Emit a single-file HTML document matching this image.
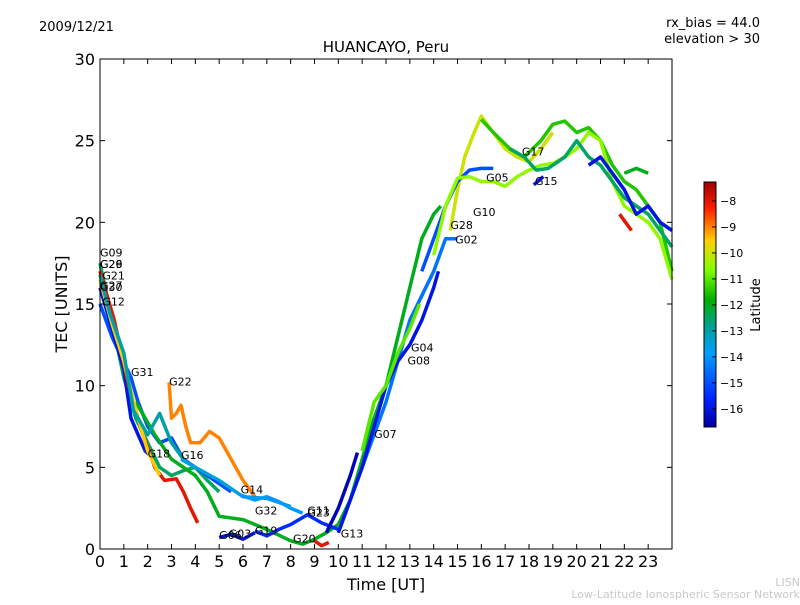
<!DOCTYPE html>
<html><head><meta charset="utf-8"><style>
body{margin:0;background:#fff;}
svg{font-family:"DejaVu Sans","Liberation Sans",sans-serif;}
</style></head><body>
<svg id="chart" width="800" height="600" viewBox="0 0 800 600" xmlns="http://www.w3.org/2000/svg">
<rect width="800" height="600" fill="#fff"/>
<text x="39" y="31" font-size="13">2009/12/21</text>
<text x="760" y="27" font-size="13" text-anchor="end">rx_bias = 44.0</text>
<text x="760" y="43" font-size="13" text-anchor="end">elevation &gt; 30</text>
<text x="386" y="52" font-size="15" text-anchor="middle">HUANCAYO, Peru</text>
<g id="plot"></g>
<rect x="100" y="59" width="572" height="490" fill="none" stroke="#000" stroke-width="1"/>
<g id="axes"></g>
<text x="386" y="590" font-size="16" text-anchor="middle">Time [UT]</text>
<text x="67" y="304" font-size="16" text-anchor="middle" transform="rotate(-90 67 304)">TEC [UNITS]</text>
<defs><linearGradient id="jet" x1="0" y1="1" x2="0" y2="0">
<stop offset="0" stop-color="#00009f"/><stop offset="0.11" stop-color="#0020ff"/><stop offset="0.3" stop-color="#00a0ff"/><stop offset="0.4" stop-color="#00a0a0"/><stop offset="0.52" stop-color="#00b000"/><stop offset="0.64" stop-color="#80ff00"/><stop offset="0.76" stop-color="#ffd000"/><stop offset="0.89" stop-color="#ff2000"/><stop offset="1" stop-color="#9f0000"/></linearGradient></defs>
<rect x="704" y="182" width="12" height="245" fill="url(#jet)" stroke="#000"/>
<g id="cbar"></g>
<text x="760" y="305" font-size="13" text-anchor="middle" transform="rotate(-90 760 305)">Latitude</text>
<text x="800" y="586" font-size="11" fill="#c8c8c8" text-anchor="end">LISN</text>
<text x="800" y="598" font-size="11" fill="#c8c8c8" text-anchor="end">Low-Latitude Ionospheric Sensor Network</text>
</svg>
<script>
const xTicks=[0,1,2,3,4,5,6,7,8,9,10,11,12,13,14,15,16,17,18,19,20,21,22,23];
const yTicks=[0,5,10,15,20,25,30];
const cbTicks=[-8,-9,-10,-11,-12,-13,-14,-15,-16];
const trackLat=[-12.5,-9,-15,-13.5,-14,-16,-8,-12,-16,-15.5,-8,-16.5,-12,-14.5,-16,-10,-11.5,-15,-10.5,-12.5,-16,-16,-8,-12,-9.5,-13,-11];
const trackPts=[
[[0,17.5],[0.5,14],[1,10.5],[1.5,8],[2,6.5],[2.5,5],[3,4.5],[3.5,4.8],[4,5],[4.5,4.2],[5,3.5]],
[[2.9,10.2],[3,8],[3.2,8.3],[3.4,8.8],[3.6,7.5],[3.8,6.5],[4.2,6.5],[4.6,7.2],[5,6.8],[5.5,5.5],[6,4.2],[6.5,3.2]],
[[0,15],[0.5,13],[1.3,10.5],[1.6,9],[2,7.5],[2.5,6.5],[3,6.8],[3.5,5.5],[4,5],[4.5,4.5],[5,4],[5.5,3.5]],
[[3.4,5.5],[4,5],[5,4.2],[6,3.2],[7,3.1],[8,2.6]],
[[5.9,3.3],[6.5,3],[7,3.2],[7.5,2.9],[8,2.5],[8.5,2.2]],
[[0,16],[0.5,13.5],[1,11],[1.3,8],[1.6,7],[1.9,6],[2.2,5.6]],
[[0,17],[0.6,14],[1.2,10],[1.8,7],[2.3,5],[2.7,4.2],[3.2,4.3],[3.5,3.5],[3.8,2.5],[4.1,1.6]],
[[1.5,9],[2.3,7],[3,5.5],[4,4.5],[4.5,3.5],[5,2],[6,1.8],[7,1.2],[8,0.5],[8.5,0.3],[9,0.6],[9.5,1],[10,1.5]],
[[5,0.7],[5.5,0.9],[6,0.6],[6.5,1.0]],
[[6.5,1.1],[7,0.8],[7.5,1.2],[8,1.5],[8.7,2.1],[9.3,1.6],[10,1.2]],
[[9,0.5],[9.3,0.2],[9.6,0.4]],
[[9.5,1],[10,2.5],[10.5,4.5],[10.8,5.9]],
[[10,1.5],[10.5,3],[11,5.5],[11.5,8],[12,10],[12.5,13],[13,16],[13.5,19],[14,20.5],[14.3,21]],
[[10,1],[11,5],[12,9],[13,14],[14,17],[14.5,19],[15,19]],
[[10,1],[11,5],[12,10],[12.5,11.5],[13,12.5],[13.5,14],[14,16],[14.2,17]],
[[14.7,19.5],[15,22],[15.3,24],[15.7,25.5],[16,26.5],[16.5,25.5],[17,24.5],[17.5,24],[18,23.7],[18.5,24.5],[19,25.5]],
[[16,26.3],[16.5,25.5],[17.2,24.5],[17.8,24],[18.5,25],[19,26],[19.5,26.2],[20,25.5],[20.5,25.8],[21,25],[21.5,23.5],[22,22.5],[22.5,22],[23,21],[23.5,20],[24,17]],
[[13.5,17],[14,19],[14.5,21],[15,22.5],[15.5,23.2],[16,23.3],[16.5,23.3]],
[[14,18],[14.5,21],[15,22.7],[15.5,22.8],[16,22.5],[16.5,22.5],[17,22.2],[17.5,22.8],[18,23.2],[18.5,23.5],[19,23.6],[19.5,24],[20,24.5],[20.5,25.5],[21,25],[21.5,22.5],[22,21],[22.5,20.5],[23,20],[23.5,19],[24,16.5]],
[[17.2,24.5],[17.8,24],[18.3,23.2],[18.8,23.3],[19.5,24],[20,25],[20.5,24],[21,23.5],[21.5,22.5],[22,21.5],[22.5,21],[23,20.5],[23.5,19.5],[24,18.5]],
[[20.5,23.5],[21,24],[21.5,23],[22,22],[22.5,20.5],[23,21],[23.5,20],[24,19.5]],
[[18.2,22.3],[18.6,22.8]],
[[21.8,20.5],[22.3,19.5]],
[[22,23],[22.5,23.3],[23,23]],
[[0,16.5],[0.5,13.8],[1,11.5],[1.5,8.5],[2,6],[2.5,4.5]],
[[0,16.8],[0.4,14.5],[1,12],[1.4,8.5],[2,7],[2.5,8.3],[3,6.5],[3.5,5.5]],
[[11,6],[11.5,9],[12,10],[12.5,12],[13,13.5],[13.4,15]]
];
const labelText=["G09","G26","G29","G21","G27","G30","G12","G31","G22","G18","G16","G14","G32","G19","G03","G06","G20","G11","G23","G13","G07","G08","G04","G02","G28","G10","G05","G17","G15"];
const labelT=[0,0,0,0.1,0,0,0.1,1.3,2.9,2.0,3.4,5.9,6.5,6.5,5.4,5.0,8.1,8.7,8.7,10.1,11.5,12.9,13.05,14.9,14.7,15.65,16.2,17.7,18.25];
const labelV=[17.9,17.2,17.2,16.5,15.9,15.8,14.9,10.6,10.0,5.6,5.5,3.4,2.1,0.9,0.7,0.6,0.4,2.1,2.0,0.7,6.8,11.3,12.1,18.7,19.6,20.4,22.5,24.1,22.3];
const NS="http://www.w3.org/2000/svg";
const X0=100,X1=672,Y0=549,Y1=59;
function xs(t){return X0+t/24*(X1-X0);}
function ys(v){return Y0-v/30*(Y0-Y1);}
const STOPS=[[0,[0,0,159]],[0.11,[0,32,255]],[0.3,[0,160,255]],[0.4,[0,160,160]],[0.52,[0,176,0]],[0.64,[128,255,0]],[0.76,[255,208,0]],[0.89,[255,32,0]],[1,[159,0,0]]];
function jet(lat){let f=(lat+16.7)/9.43;f=Math.max(0,Math.min(1,f));
 for(let i=1;i<STOPS.length;i++){if(f<=STOPS[i][0]){const a=STOPS[i-1],b=STOPS[i],u=(f-a[0])/(b[0]-a[0]);
  const c=a[1].map((x,k)=>Math.round(x+(b[1][k]-x)*u));return `rgb(${c[0]},${c[1]},${c[2]})`;}}
 return 'rgb(159,0,0)';}
function mk(tag,attrs,parent){const e=document.createElementNS(NS,tag);for(const k in attrs)e.setAttribute(k,attrs[k]);parent.appendChild(e);return e;}
const plot=document.getElementById('plot'),axes=document.getElementById('axes'),cbar=document.getElementById('cbar');
trackPts.forEach((pts,i)=>{
 const p=mk('polyline',{points:pts.map(q=>xs(q[0]).toFixed(1)+','+ys(q[1]).toFixed(1)).join(' '),fill:'none',stroke:jet(trackLat[i]),'stroke-width':3.5,'stroke-linejoin':'round'},plot);
 
 
});
labelText.forEach((s,i)=>{
 const t=mk('text',{x:xs(labelT[i]),y:ys(labelV[i]),'font-size':11},plot);t.textContent=s;
 
 
});
xTicks.forEach(v=>{
 const l=mk('line',{x1:xs(v),x2:xs(v),y1:Y0,y2:Y0-5,stroke:'#000'},axes);
 
 
 mk('line',{x1:xs(v),x2:xs(v),y1:Y1,y2:Y1+5,stroke:'#000'},axes);
 const t=mk('text',{x:xs(v),y:567,'font-size':16,'text-anchor':'middle'},axes);t.textContent=v;
 
 
});
yTicks.forEach(v=>{
 const l=mk('line',{x1:X0,x2:X0+5,y1:ys(v),y2:ys(v),stroke:'#000'},axes);
 
 
 mk('line',{x1:X1,x2:X1-5,y1:ys(v),y2:ys(v),stroke:'#000'},axes);
 const t=mk('text',{x:95,y:ys(v)+6,'font-size':16,'text-anchor':'end'},axes);t.textContent=v;
 
 
});
cbTicks.forEach(v=>{
 const y=182+(-7.27-v)/9.43*245;
 mk('line',{x1:712,x2:716,y1:y,y2:y,stroke:'#000'},cbar);
 const t=mk('text',{x:720,y:y+4,'font-size':11},cbar);t.textContent='\u2212'+Math.abs(v);
 
 
});
</script>
</body></html>
